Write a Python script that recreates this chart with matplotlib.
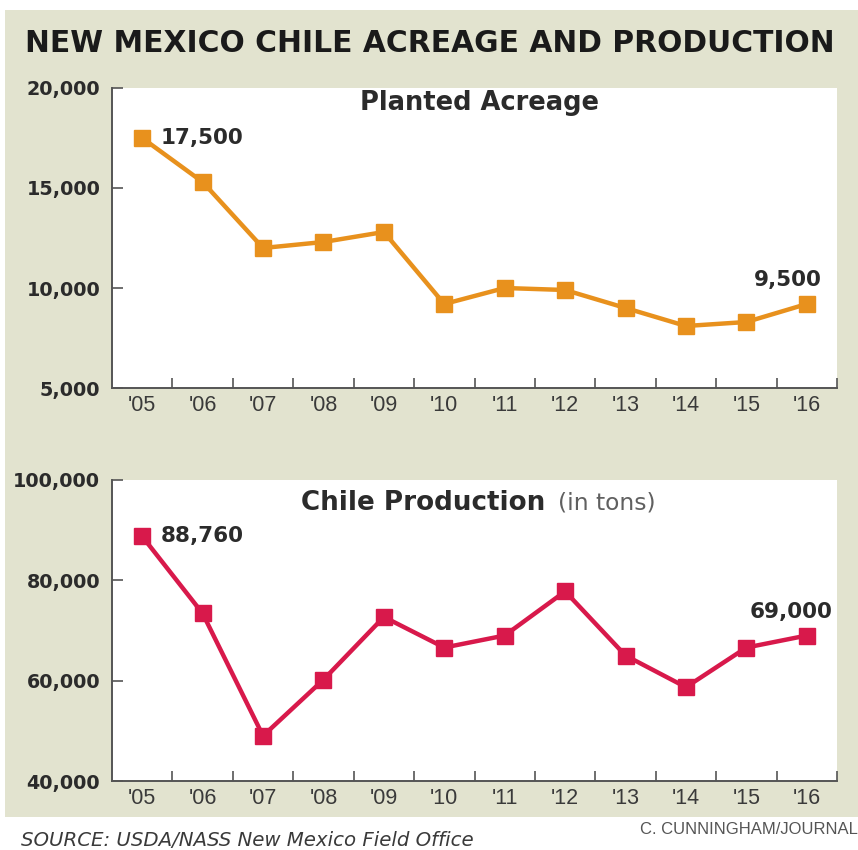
import matplotlib
matplotlib.use("Agg")
import matplotlib.pyplot as plt
from matplotlib.patches import Rectangle
from matplotlib.ticker import FuncFormatter, FixedLocator

years = ["'05", "'06", "'07", "'08", "'09", "'10", "'11", "'12", "'13", "'14", "'15", "'16"]
acreage = [17500, 15300, 12000, 12300, 12800, 9200, 10000, 9900, 9000, 8100, 8300, 9200]
production = [88760, 73400, 49000, 60200, 72700, 66600, 69000, 77800, 65000, 58700, 66600, 69000]
acreage_labels = {0: "17,500", 11: "9,500"}
production_labels = {0: "88,760", 11: "69,000"}
acreage_ticks = [5000, 10000, 15000, 20000]
production_ticks = [40000, 60000, 80000, 100000]

BG = "#e2e3cf"
ORANGE = "#e8911d"
RED = "#d8194b"
TXT = "#2b2b2b"

fig = plt.figure(figsize=(8.58, 8.50), dpi=100)
fig.patch.set_facecolor("white")
fig.patches.append(Rectangle((5/858, 1-817/850), 1-5/858, (817-10)/850,
                             transform=fig.transFigure, facecolor=BG,
                             edgecolor="none", zorder=-10))

fig.text(25/858, 1-43/850, "NEW MEXICO CHILE ACREAGE AND PRODUCTION",
         fontsize=21.4, fontweight="heavy", family="DejaVu Sans",
         color="#1a1a1a", va="center", ha="left")

narrow = ["Liberation Sans Narrow", "Liberation Sans", "DejaVu Sans"]

def setup(ax, ticks, lo, hi):
    x = list(range(len(years)))
    ax.set_facecolor("white")
    ax.set_xlim(-0.5, 11.5)
    ax.set_ylim(lo, hi)
    for s in ["top", "right"]:
        ax.spines[s].set_visible(False)
    for s in ["left", "bottom"]:
        ax.spines[s].set_color("#555555")
        ax.spines[s].set_linewidth(1.4)
    ax.set_yticks(ticks)
    ax.yaxis.set_major_formatter(FuncFormatter(lambda v, p: f"{int(v):,}"))
    ax.tick_params(axis="y", direction="in", length=8, width=1.2, color="#555555",
                   pad=8.5, labelsize=13.8, labelcolor=TXT)
    for lab in ax.get_yticklabels():
        lab.set_fontweight("bold")
    ax.set_xticks(x)
    ax.set_xticklabels(years, family=narrow, fontsize=15.5, color="#3a3a3a")
    ax.tick_params(axis="x", which="major", length=0, pad=5)
    ax.xaxis.set_minor_locator(FixedLocator([i + 0.5 for i in range(len(years))]))
    ax.tick_params(axis="x", which="minor", direction="in", length=7, width=1.2,
                   color="#555555")
    return x

ax1 = fig.add_axes([112/858, 1-388/850, 725/858, 300/850])
x = setup(ax1, acreage_ticks, 5000, 20000)
ax1.plot(x, acreage, color=ORANGE, lw=3.2, marker="s", ms=11.5, mfc=ORANGE, mec=ORANGE,
         clip_on=False, zorder=3)
ax1.text(0.507, 0.95, "Planted Acreage", transform=ax1.transAxes, ha="center", va="center",
         fontsize=18.5, fontweight="bold", color=TXT)
ax1.annotate(acreage_labels[0], (0, acreage[0]), xytext=(13, 0), textcoords="offset points",
             ha="left", va="center", fontsize=15.5, fontweight="bold", color=TXT)
ax1.annotate(acreage_labels[11], (11, acreage[11]), xytext=(-14, 17), textcoords="offset points",
             ha="center", va="center", fontsize=15.5, fontweight="bold", color=TXT)

ax2 = fig.add_axes([112/858, 1-781/850, 725/858, 301/850])
x = setup(ax2, production_ticks, 40000, 100000)
ax2.plot(x, production, color=RED, lw=3.2, marker="s", ms=11.5, mfc=RED, mec=RED,
         clip_on=False, zorder=3)
t = ax2.text((545-112)/725, 0.925, "Chile Production", transform=ax2.transAxes,
             ha="right", va="center", fontsize=18.8, fontweight="bold", color=TXT)
ax2.annotate("(in tons)", xy=(1, 0.5), xycoords=t, xytext=(9, 0), textcoords="offset points",
             ha="left", va="center", fontsize=16.8, color="#606060", family="DejaVu Sans")
ax2.annotate(production_labels[0], (0, production[0]), xytext=(13, 0), textcoords="offset points",
             ha="left", va="center", fontsize=15.5, fontweight="bold", color=TXT)
ax2.annotate(production_labels[11], (11, production[11]), xytext=(-11, 17), textcoords="offset points",
             ha="center", va="center", fontsize=15.5, fontweight="bold", color=TXT)

fig.text(21/858, 1-840/850, "SOURCE: USDA/NASS New Mexico Field Office", fontsize=14.2,
         style="italic", color="#3a3a3a", va="center", ha="left", family="DejaVu Sans")
fig.text(1.0, 1-829/850, "C. CUNNINGHAM/JOURNAL", fontsize=12, color="#555555",
         va="center", ha="right", family=narrow)

fig.savefig("out.png", dpi=100)
